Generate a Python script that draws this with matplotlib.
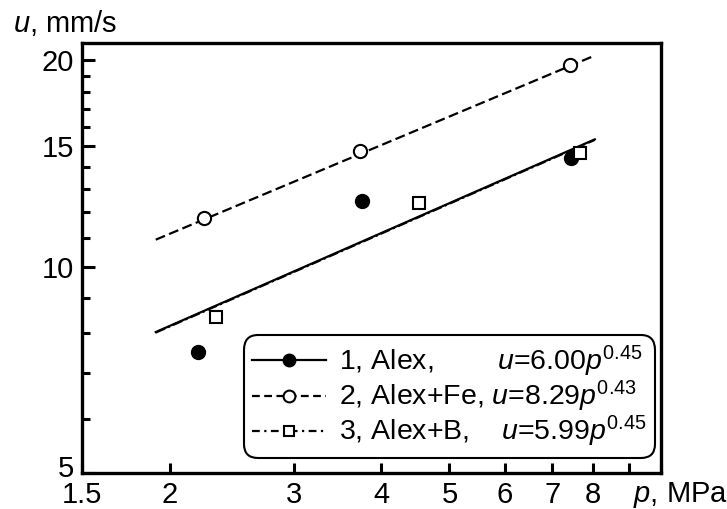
import matplotlib
matplotlib.use("Agg")
import matplotlib.pyplot as plt
import matplotlib.transforms as mtransforms
from matplotlib.ticker import FixedLocator, NullFormatter
import numpy as np

plt.rcParams['font.family'] = ['Liberation Sans', 'DejaVu Sans']
plt.rcParams['mathtext.fontset'] = 'custom'
plt.rcParams['mathtext.rm'] = 'Liberation Sans'
plt.rcParams['mathtext.it'] = 'Liberation Sans:italic'

# measured points
p_alex = [2.19, 3.76, 7.45]
u_alex = [7.50, 12.45, 14.43]
p_fe = [2.235, 3.73, 7.42]
u_fe = [11.76, 14.73, 19.68]
p_b = [2.33, 4.52, 7.67]
u_b = [8.45, 12.37, 14.63]

# power law fits u = a * p^n
fit_alex = (6.00, 0.45)
fit_fe = (8.29, 0.43)
fit_b = (5.99, 0.45)
p_fit_range = (1.91, 8.05)

labels = ["1, Alex,        $u$=6.00$p^{0.45}$",
          "2, Alex+Fe, $u$=8.29$p^{0.43}$",
          "3, Alex+B,    $u$=5.99$p^{0.45}$"]

x_major = [1.5, 2, 3, 4, 5, 6, 7, 8]
x_minor = [9, 10]
y_major = [5, 10, 15, 20]
y_minor = [6, 7, 8, 9, 11, 12, 13, 14, 16, 17, 18, 19]

fs = 21

fig = plt.figure(figsize=(7.27, 5.09), dpi=100)
ax = fig.add_axes([0.1128, 0.0707, 0.7964, 0.8448])
ax.set_xscale('log')
ax.set_yscale('log')

pp = np.linspace(p_fit_range[0], p_fit_range[1], 50)
lw = 1.6
ax.plot(pp, fit_alex[0] * pp ** fit_alex[1], color='black', lw=lw)
ax.plot(pp, fit_fe[0] * pp ** fit_fe[1], color='black', lw=lw, dashes=(4.5, 2))
ax.plot(pp, fit_b[0] * pp ** fit_b[1], color='black', lw=lw, dashes=(4.5, 1.5, 1, 1.5))

ax.plot(p_alex, u_alex, 'o', ms=10, color='black', ls='none')
ax.plot(p_fe, u_fe, 'o', ms=9.5, mfc='white', mec='black', mew=1.5, ls='none')
ax.plot(p_b, u_b, 's', ms=8.5, mfc='white', mec='black', mew=1.5, ls='none')

# legend handles (line + marker)
h1, = ax.plot([], [], color='black', lw=lw, marker='o', ms=9)
h2, = ax.plot([], [], color='black', lw=lw, dashes=(3.5, 2), marker='o', ms=8.5,
              mfc='white', mec='black', mew=1.5)
h3, = ax.plot([], [], color='black', lw=lw, dashes=(3.5, 2, 1, 2), marker='s', ms=7.5,
              mfc='white', mec='black', mew=1.5)
leg = ax.legend([h1, h2, h3], labels, loc='lower right', bbox_to_anchor=(0.99, 0.035),
                borderaxespad=0, fontsize=20.5, handlelength=2.6, handletextpad=0.45,
                labelspacing=0, borderpad=0.3, fancybox=True, framealpha=1,
                edgecolor='black')
leg.get_frame().set_linewidth(1.5)
leg.get_frame().set_boxstyle('round', pad=0, rounding_size=0.5)

ax.set_xlim(1.5, 10)
ax.set_ylim(5, 21.2)

ax.xaxis.set_major_locator(FixedLocator(x_major))
ax.xaxis.set_minor_locator(FixedLocator(x_minor))
ax.set_xticklabels([str(v) for v in x_major])
ax.xaxis.set_minor_formatter(NullFormatter())
ax.yaxis.set_major_locator(FixedLocator(y_major))
ax.yaxis.set_minor_locator(FixedLocator(y_minor))
ax.set_yticklabels([str(v) for v in y_major])
ax.yaxis.set_minor_formatter(NullFormatter())

ax.tick_params(which='both', direction='in', width=2.2, labelsize=fs, top=False, right=False)
ax.tick_params(axis='y', which='major', length=9, pad=6)
ax.tick_params(axis='y', which='minor', length=6)
ax.tick_params(axis='x', which='both', length=7, pad=6)
for s in ax.spines.values():
    s.set_linewidth(2.4)

# the "5" sits a little above its tick, clear of "1.5"
lab5 = ax.yaxis.get_major_ticks()[0].label1
lab5.set_transform(lab5.get_transform() +
                   mtransforms.ScaledTranslation(0, 5 / 72, fig.dpi_scale_trans))

fig.text(13 / 727, 1 - 32 / 509, "$u$, mm/s", fontsize=fs, ha='left', va='baseline')
fig.text(633 / 727, 1 - 502 / 509, "$p$, MPa", fontsize=fs, ha='left', va='baseline')

fig.savefig('out.png', dpi=100)
